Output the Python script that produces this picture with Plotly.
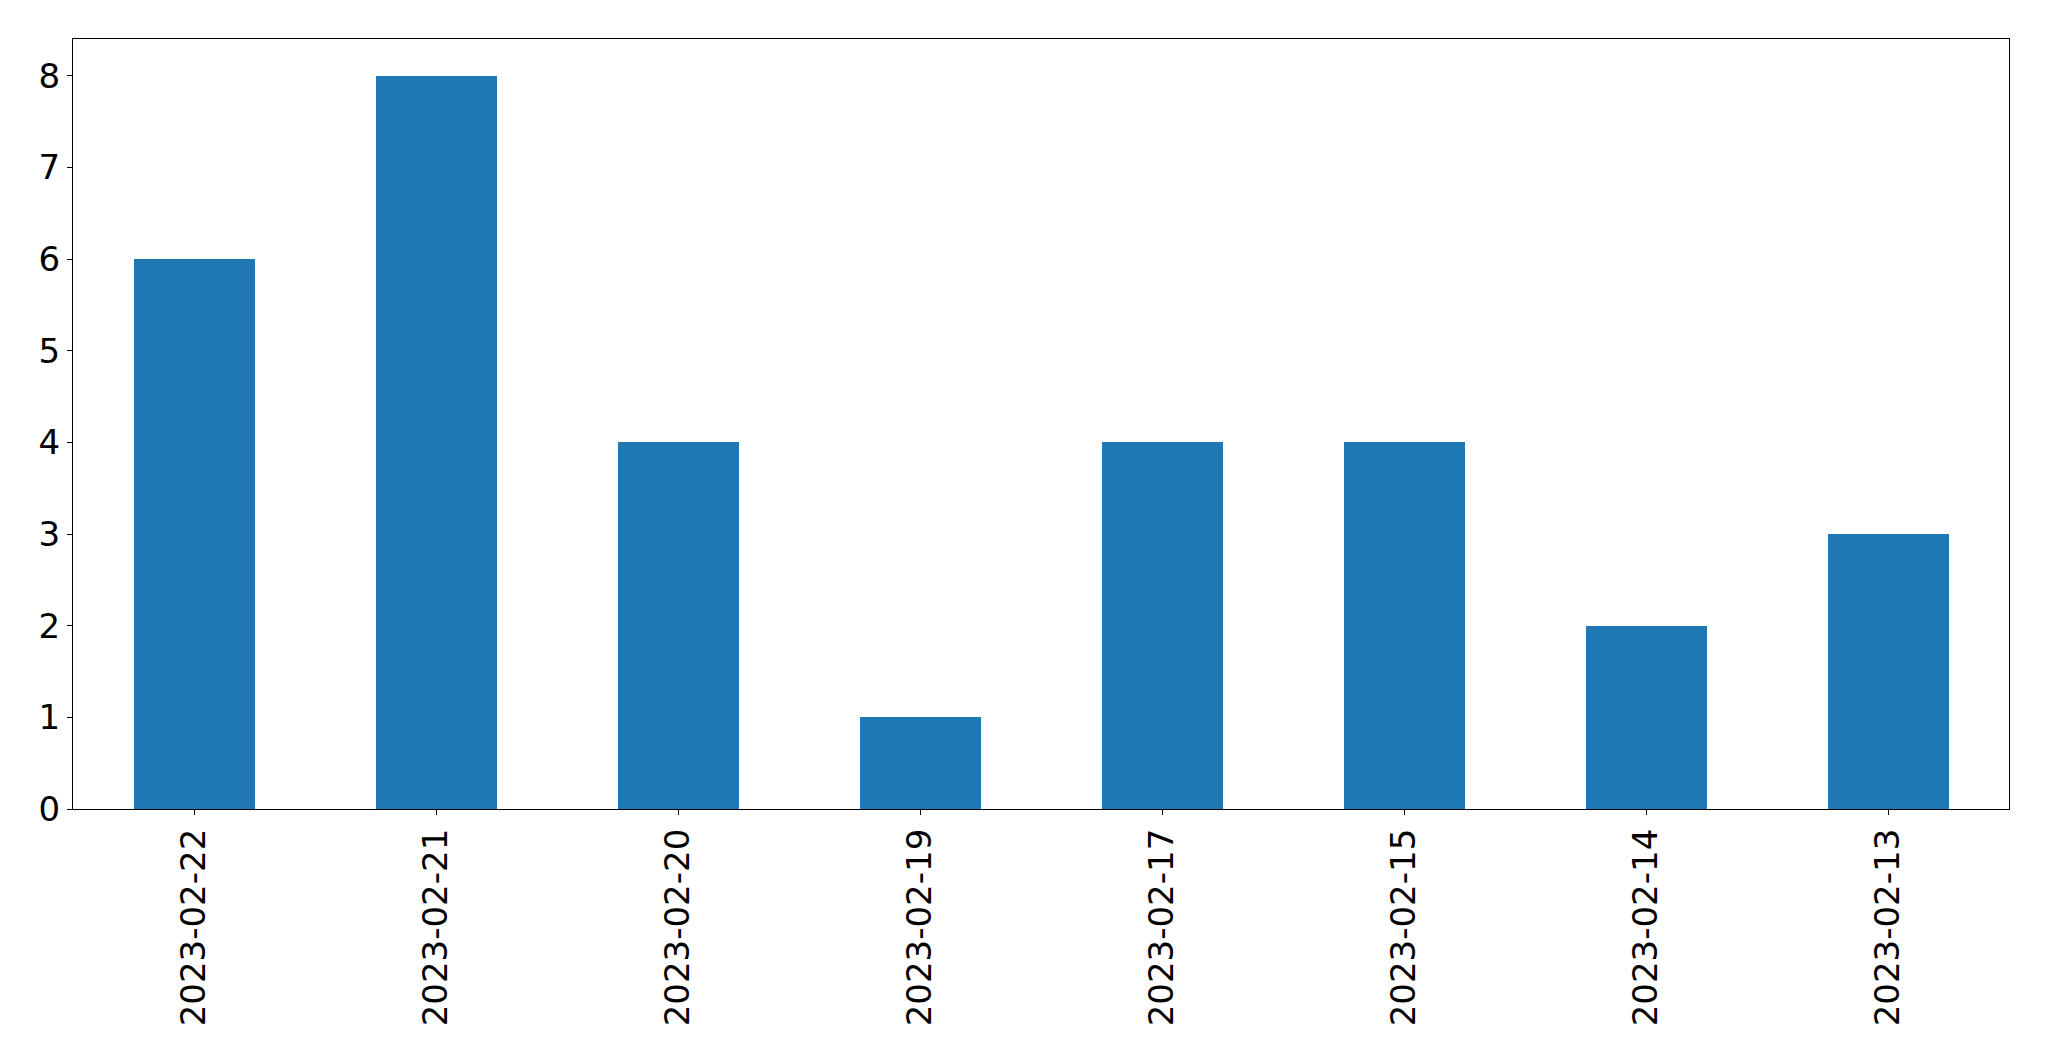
import plotly.graph_objects as go

dates = ["2023-02-22", "2023-02-21", "2023-02-20", "2023-02-19",
         "2023-02-17", "2023-02-15", "2023-02-14", "2023-02-13"]
counts = [6, 8, 4, 1, 4, 4, 2, 3]
y_ticks = [0, 1, 2, 3, 4, 5, 6, 7, 8]

fig = go.Figure(go.Bar(x=list(range(len(dates))), y=counts, width=0.5,
                       marker=dict(color="#1f77b4", line=dict(width=0))))

font = dict(family="DejaVu Sans", size=34, color="black")
fig.update_layout(
    width=2049, height=1061,
    margin=dict(l=65, r=48, t=31, b=260, pad=0),
    paper_bgcolor="white", plot_bgcolor="white",
    showlegend=False, bargap=0,
    font=font,
)
fig.update_xaxes(
    range=[-0.5, len(dates) - 0.5],
    tickmode="array", tickvals=list(range(len(dates))), ticktext=dates,
    tickangle=-90, ticks="outside", ticklen=5, tickwidth=1.3, tickcolor="black",
    showline=True, linecolor="black", linewidth=1.3, mirror=True,
    showgrid=False, zeroline=False, tickfont=font,
)
fig.update_yaxes(
    range=[0, 8.4],
    tickmode="array", tickvals=y_ticks, ticktext=[str(v) for v in y_ticks],
    ticks="outside", ticklen=5, tickwidth=1.3, tickcolor="black",
    showline=True, linecolor="black", linewidth=1.3, mirror=True,
    showgrid=False, zeroline=False, tickfont=font,
)
fig.write_html("out.html")
